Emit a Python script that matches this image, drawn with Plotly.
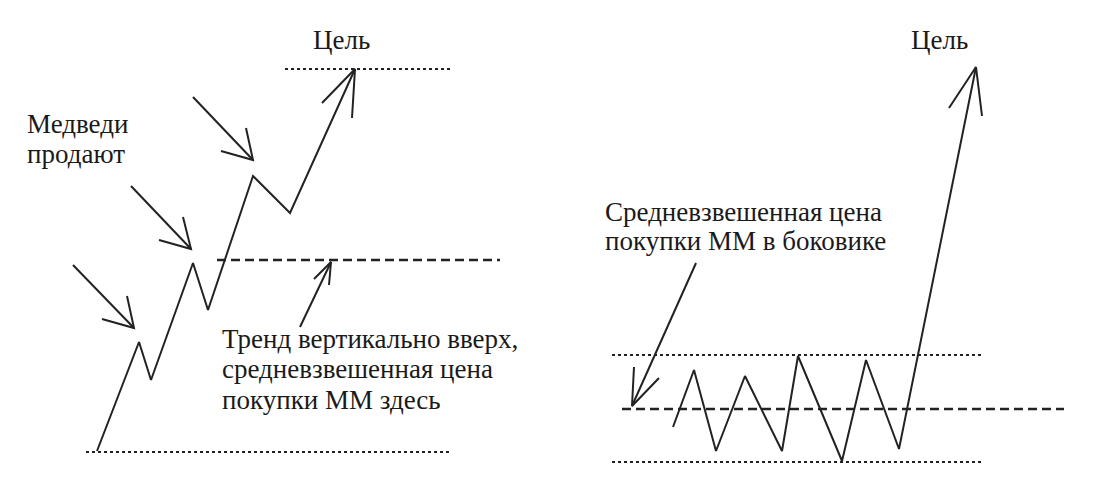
import plotly.graph_objects as go

W, H = 1106, 479

# ---- data (pixel space of the diagram) ----
# left panel: trending market
left_zig_x = [97, 139, 151, 193, 208, 253, 290, 355]
left_zig_y = [451, 342, 380, 263, 310, 176, 213, 69]
left_head_x = [322, 355, 352]
left_head_y = [103, 69, 118]

bear_shaft_x = [[73, 134], [131, 191], [193, 253]]
bear_shaft_y = [[265, 328], [186, 249], [97, 160]]
bear_head_x = [[102, 134, 127], [159, 191, 183], [221, 253, 246]]
bear_head_y = [[319, 328, 296], [240, 249, 217], [151, 160, 128]]

trend_arrow_x = [300, 331]
trend_arrow_y = [327, 262]
trend_head_x = [314, 331, 329]
trend_head_y = [279, 262, 285]

left_target_x = [285, 450]
left_target_y = [69, 69]
left_base_x = [86, 450]
left_base_y = [452, 452]
left_avg_x = [217, 500]
left_avg_y = [260, 260]

# right panel: sideways market
right_zig_x = [673, 694, 716, 745, 782, 798, 842, 866, 899, 976]
right_zig_y = [427, 370, 451, 376, 451, 356, 461, 360, 449, 67]
right_head_x = [949, 976, 982]
right_head_y = [108, 67, 116]

mm_arrow_x = [696, 632]
mm_arrow_y = [263, 406]
mm_head_x = [634, 632, 659]
mm_head_y = [367, 406, 378]

right_top_x = [612, 983]
right_top_y = [355, 355]
right_bot_x = [612, 983]
right_bot_y = [462, 462]
right_avg_x = [622, 1064]
right_avg_y = [409, 409]

# text lines
labels_text = ["Цель", "Цель",
               "Медведи", "продают",
               "Тренд вертикально вверх,", "средневзвешенная цена", "покупки ММ здесь",
               "Средневзвешенная цена", "покупки ММ в боковике"]
labels_x = [341, 939, 26, 26, 221, 221, 221, 604, 604]
labels_base = [49, 49, 133, 163, 348, 378, 409, 221, 250]
labels_anchor = ["center", "center", "left", "left", "left", "left", "left", "left", "left"]

# ---- styling ----
LINE_C = "#222222"
TEXT_C = "#1a1a1a"
FS = 27
PAGE_OFF = 8  # default body margin of the html page
FONT = "Liberation Serif, Tinos, DejaVu Serif, Times New Roman, serif"

fig = go.Figure()

def add_line(xs, ys, width=2.0, dash="solid"):
    fig.add_trace(go.Scatter(x=xs, y=ys, mode="lines",
                             line=dict(color=LINE_C, width=width, dash=dash),
                             hoverinfo="skip", showlegend=False))

# reference lines
add_line(left_target_x, left_target_y, 2, "3px,3px")
add_line(left_base_x, left_base_y, 2, "3px,3px")
add_line(left_avg_x, left_avg_y, 2.5, "9px,5px")
add_line(right_top_x, right_top_y, 2, "3px,3px")
add_line(right_bot_x, right_bot_y, 2, "3px,3px")
add_line(right_avg_x, right_avg_y, 2.5, "9px,5px")

# price paths
add_line(left_zig_x, left_zig_y)
add_line(left_head_x, left_head_y)
add_line(right_zig_x, right_zig_y)
add_line(right_head_x, right_head_y)

# pointer arrows
for sx, sy, hx, hy in zip(bear_shaft_x, bear_shaft_y, bear_head_x, bear_head_y):
    add_line(sx, sy)
    add_line(hx, hy)
add_line(trend_arrow_x, trend_arrow_y)
add_line(trend_head_x, trend_head_y)
add_line(mm_arrow_x, mm_arrow_y)
add_line(mm_head_x, mm_head_y)

# text
off = 0.3375 * FS
for t, x, b, a in zip(labels_text, labels_x, labels_base, labels_anchor):
    fig.add_annotation(x=x, y=b - off, xref="x", yref="y", text=t,
                       showarrow=False, xanchor=a, yanchor="middle",
                       font=dict(family=FONT, size=FS, color=TEXT_C),
                       borderpad=0)

fig.update_layout(
    width=W, height=H,
    margin=dict(l=0, r=0, t=0, b=0),
    paper_bgcolor="white", plot_bgcolor="white",
    font=dict(family=FONT),
    xaxis=dict(range=[PAGE_OFF, W + PAGE_OFF], visible=False, fixedrange=True),
    yaxis=dict(range=[H + PAGE_OFF, PAGE_OFF], visible=False, fixedrange=True),
    showlegend=False,
)

fig.write_html("out.html", config={"displayModeBar": False})
